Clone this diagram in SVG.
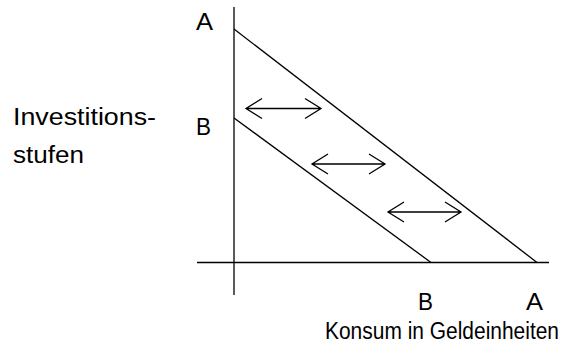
<svg xmlns="http://www.w3.org/2000/svg" width="572" height="351" viewBox="0 0 572 351">
<style>
.ln{stroke:#000;stroke-width:1.3;fill:none}
.ar{stroke:#000;stroke-width:1.3;fill:none}
text{font-family:"Liberation Sans",Arial,sans-serif;font-size:23px;fill:#000}
</style>
<rect width="572" height="351" fill="#fff"/>
<g id="axes">
<line class="ln" x1="234" y1="7" x2="234" y2="295"/>
<line class="ln" x1="197" y1="262.5" x2="549" y2="262.5"/>
</g>
<g id="lineA"><line class="ln" x1="234" y1="29" x2="537" y2="262.5"/></g>
<g id="lineB"><line class="ln" x1="234" y1="118" x2="431" y2="262.5"/></g>
<g id="connectors">
<path class="ar" d="M246,108.5H321M262,98.5L246,108.5L262,118.5M305,98.5L321,108.5L305,118.5"/>
<path class="ar" d="M312,164H385M328,154L312,164L328,174M369,154L385,164L369,174"/>
<path class="ar" d="M388,212H461M404,202L388,212L404,222M445,202L461,212L445,222"/>
</g>
<g id="labels">
<text x="196" y="30" textLength="17" lengthAdjust="spacingAndGlyphs">A</text>
<text x="196" y="135" textLength="15" lengthAdjust="spacingAndGlyphs">B</text>
<text x="418" y="310" textLength="15" lengthAdjust="spacingAndGlyphs">B</text>
<text x="526" y="310" textLength="17" lengthAdjust="spacingAndGlyphs">A</text>
<text x="13" y="125" textLength="143" lengthAdjust="spacingAndGlyphs">Investitions-</text>
<text x="13" y="163" textLength="71" lengthAdjust="spacingAndGlyphs">stufen</text>
<text x="325" y="339" font-size="19.5" textLength="234" lengthAdjust="spacingAndGlyphs">Konsum in Geldeinheiten</text>
</g>
</svg>
